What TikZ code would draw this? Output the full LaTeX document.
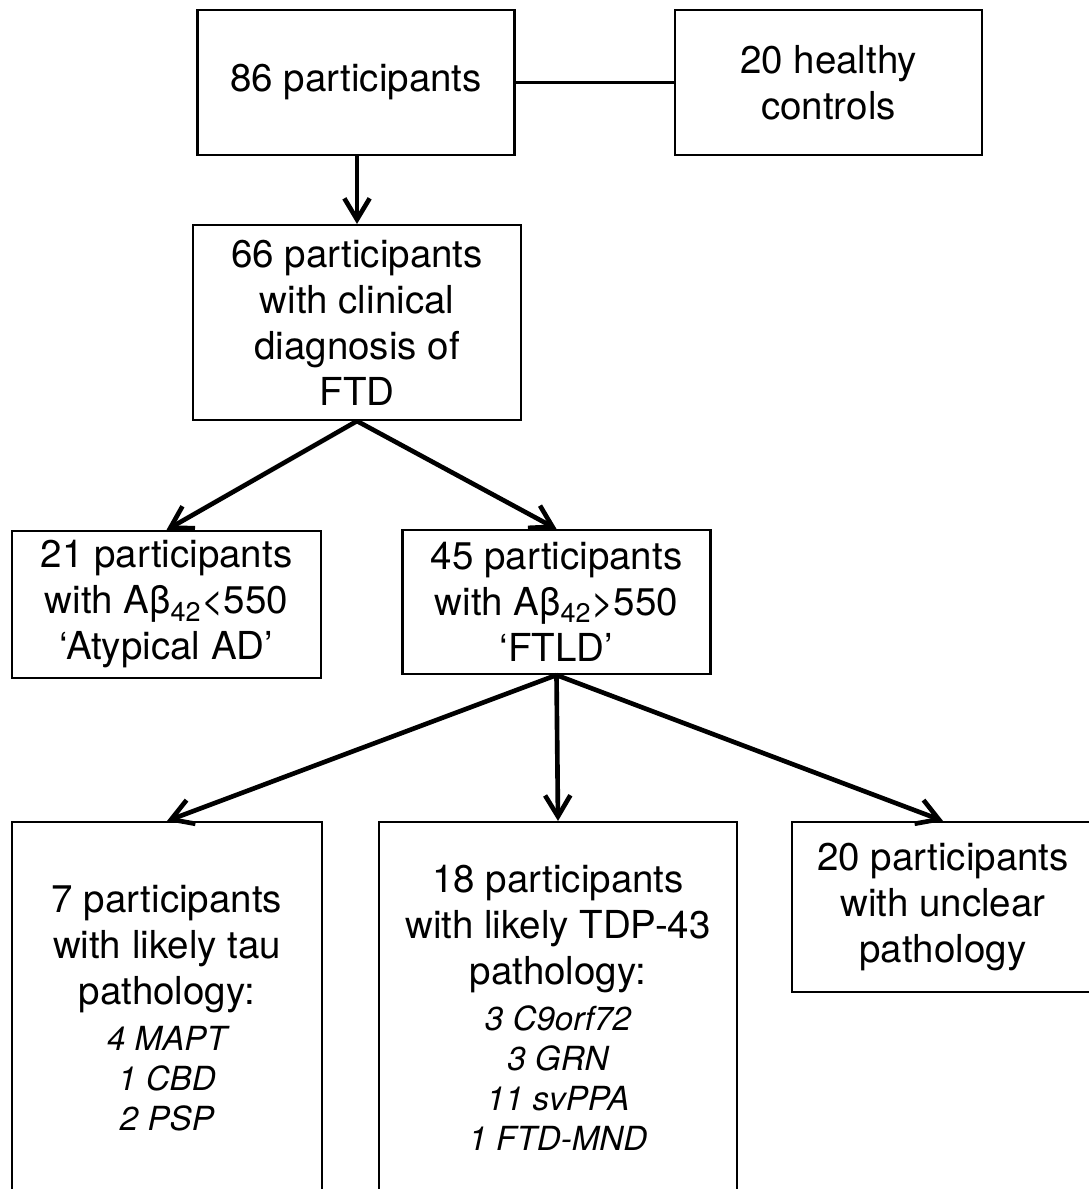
\documentclass[tikz,border=0pt]{standalone}
\usepackage{fontspec}
\setmainfont{TeX Gyre Heros}
\usepackage{tikz}
\usetikzlibrary{positioning, arrows.meta}

\newcommand{\gene}[1]{{\fontsize{23.6}{28.5}\selectfont\itshape #1}}

\begin{document}
\begin{tikzpicture}[x=0.025cm, y=-0.025cm,
    flowbox/.style={draw, line width=1.5pt, align=center, inner sep=0pt},
    sz/.style 2 args={minimum width=#1*0.025cm, minimum height=#2*0.025cm},
    arr/.style={-{Straight Barb[length=15pt, width=18pt]}, line width=3.3pt},
    font=\fontsize{27.4}{32.7}\selectfont]
  \useasboundingbox (0,0) rectangle (1089,1189);
  \clip (0,0) rectangle (1089,1189);
  % top row
  \node[flowbox, sz={317}{145}] (all) at (356,82.5) {86 participants};
  \node[flowbox, sz={307}{145}] (hc) at (828.5,82.5) {20 healthy\\controls};
  \node[flowbox, sz={328}{195}] (ftd) at (357,322.5) {66 participants\\with clinical\\diagnosis of\\FTD};
  % amyloid split
  \node[flowbox, sz={309}{147}] (ad) at (166.5,604.5) {21 participants\\with Aβ\textsubscript{42}<550\\`Atypical AD'};
  \node[flowbox, sz={308}{144}] (ftld) at (556.5,602) {45 participants\\with Aβ\textsubscript{42}>550\\`FTLD'};
  % pathology groups
  \node[flowbox, sz={310}{372}] (tau) at (167,1008) {7 participants\\with likely tau\\pathology:\\
    \gene{4 MAPT}\\[-4.2pt]\gene{1 CBD}\\[-4.2pt]\gene{2 PSP}};
  \node[flowbox, sz={358}{372}] (tdp) at (558,1008) {18 participants\\with likely TDP-43\\pathology:\\
    \gene{3 C9orf72}\\[-4.2pt]\gene{3 GRN}\\[-4.2pt]\gene{11 svPPA}\\[-4.2pt]\gene{1 FTD-MND}};
  \node[flowbox, sz={302}{170}] (unc) at (943,907) {20 participants\\with unclear\\pathology};

  \draw[line width=1.5pt] (all.east) -- (hc.west);
  \path[arr]
    (all.south -| ftd.north) edge (ftd.north)
    (ftd.south) edge (ad.north)
    (ftd.south) edge (ftld.north)
    (ftld.south) edge (tau.north)
    (ftld.south) edge (tdp.north)
    (ftld.south) edge (unc.north);
\end{tikzpicture}
\end{document}
